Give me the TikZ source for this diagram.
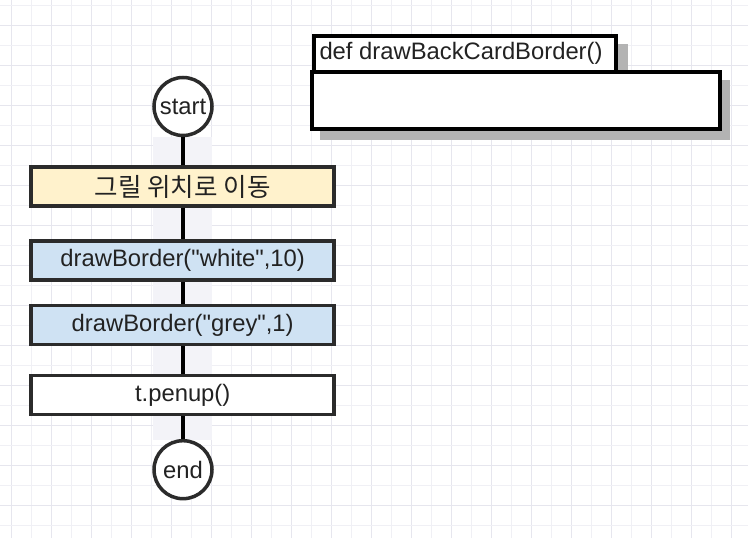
\documentclass[tikz,border=0pt]{standalone}
\usepackage{fontspec}
\setmainfont{Liberation Sans}[Ligatures=TeXOff]
\newfontfamily\krfont{Noto Sans CJK KR}
\definecolor{gridminor}{HTML}{F0F0F5}
\definecolor{gridmajor}{HTML}{E6E6EE}
\definecolor{stripcol}{HTML}{F3F3F8}
\definecolor{yellowfill}{HTML}{FFF2CC}
\definecolor{bluefill}{HTML}{CFE2F3}
\definecolor{strokecol}{HTML}{2B2B2B}
\definecolor{txtcol}{HTML}{222222}
\definecolor{shadowcol}{HTML}{B3B3B3}
\tikzset{
  txt/.style={font=\fontsize{23.8bp}{28bp}\selectfont, text=txtcol},
  krtxt/.style={font=\krfont\fontsize{25.5bp}{30bp}\selectfont, text=txtcol},
  circnode/.style={circle, draw=strokecol, line width=3.5bp, fill=white, minimum size=58bp, inner sep=0pt, txt},
  procbox/.style={rectangle, draw=strokecol, line width=3.5bp, minimum width=303bp, minimum height=39bp, inner sep=0pt, txt},
  conn/.style={draw=black, line width=3.5bp},
  frame/.style={draw=black, line width=4bp, fill=white},
  shadowbox/.style={fill=shadowcol, draw=none}
}
\begin{document}
\begin{tikzpicture}[x=1bp, y=-1bp]
\useasboundingbox (0,0) rectangle (748,538);
\fill[white] (0,0) rectangle (748,538);
% grid
\foreach \k in {0,...,36} {
  \pgfmathsetmacro{\xx}{11.7+20*\k}
  \pgfmathtruncatemacro{\mj}{mod(\k,2)}
  \ifnum\mj=0 \draw[gridmajor, line width=0.9bp] (\xx,0) -- (\xx,538);
  \else \draw[gridminor, line width=0.9bp] (\xx,0) -- (\xx,538); \fi
}
\foreach \k in {0,...,26} {
  \pgfmathsetmacro{\yy}{5+20*\k}
  \pgfmathtruncatemacro{\mj}{mod(\k,2)}
  \ifnum\mj=1 \draw[gridmajor, line width=0.9bp] (0,\yy) -- (748,\yy);
  \else \draw[gridminor, line width=0.9bp] (0,\yy) -- (748,\yy); \fi
}
% light strip behind flow
\fill[stripcol] (153,137) rectangle (212,440);

% flow nodes
\node[circnode] (start) at (183,106.5) {start};
\node[procbox, fill=yellowfill, krtxt] (b1) at (182.7,186.5) {그릴 위치로 이동};
\node[procbox, fill=bluefill] (b2) at (182.7,260.7) {drawBorder("white",10)};
\node[procbox, fill=bluefill] (b3) at (182.7,325) {drawBorder("grey",1)};
\node[procbox, fill=white] (b4) at (182.7,395) {t.penup()};
\node[circnode] (end) at (183,469.7) {end};

\draw[conn] (start.south) -- (start.south |- b1.north);
\draw[conn] (b1.south -| start.south) -- (b2.north -| start.south);
\draw[conn] (b2.south -| start.south) -- (b3.north -| start.south);
\draw[conn] (b3.south -| start.south) -- (b4.north -| start.south);
\draw[conn] (b4.south -| end.north) -- (end.north);

% function container with shadows
\fill[shadowbox] (321.7,44) rectangle (628,80);
\fill[shadowbox] (320,80) rectangle (730,140);
\draw[frame] (313.7,36) rectangle (616,72);
\draw[frame] (312,72) rectangle (719.7,129.5);
\node[txt, anchor=west, inner sep=0pt] (title) at (319.3,53) {def drawBackCardBorder()};
\end{tikzpicture}
\end{document}
